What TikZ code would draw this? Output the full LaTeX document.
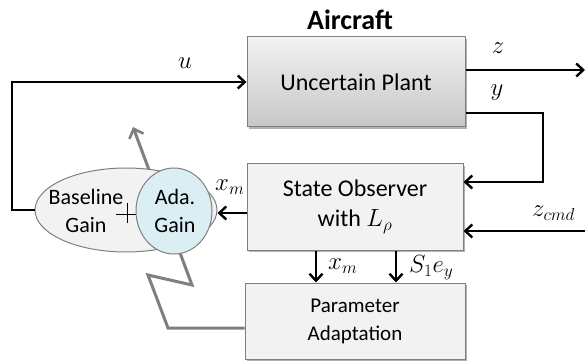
\documentclass[tikz,border=0pt]{standalone}
\usepackage{fontspec}
\setmainfont{Carlito}
\usetikzlibrary{arrows.meta,shadows,shapes.geometric}
\definecolor{boxline}{HTML}{7F7F7F}
\definecolor{boxfill}{HTML}{F2F2F2}
\definecolor{adafill}{HTML}{DAEEF3}
\definecolor{graypath}{HTML}{7F7F7F}
\begin{document}
\begin{tikzpicture}[x=1pt,y=-1pt,
  blk/.style={draw=boxline, line width=1pt, fill=boxfill, inner sep=0pt,
    drop shadow={shadow xshift=2pt,shadow yshift=-2pt,fill=black,opacity=0.3}},
  sig/.style={line width=2.6pt, -{Straight Barb[length=7pt,width=13pt,line width=2.4pt]}},
  gpath/.style={draw=graypath, line width=3pt, -{Straight Barb[length=8pt,width=15pt,line width=2.6pt]}},
  big/.style={font=\fontsize{24}{30}\selectfont},
  mid/.style={font=\fontsize{21}{28}\selectfont},
  gain/.style={font=\fontsize{22}{28}\selectfont},
  lbl/.style={font=\fontsize{25}{30}\selectfont, inner sep=0pt}
]
\useasboundingbox (0,0) rectangle (585,363);
% boxes
\node[blk, minimum width=218pt, minimum height=90pt, top color=black!5, bottom color=black!22, big] (plant) at (356,82) {Uncertain Plant};
\node[font=\bfseries\fontsize{28}{32}\selectfont] (title) at (350,20) {Aircraft};
\node[blk, minimum width=216pt, minimum height=86pt, big, align=center] (obs) at (355,207) {State Observer\\ with $L_\rho$};
\node[blk, minimum width=220pt, minimum height=76pt, mid, align=center] (par) at (355,321) {Parameter\\Adaptation};
% gray adaptation path
\coordinate (g1) at (168,328);
\coordinate (g2) at (148,275);
\coordinate (g3) at (192,285);
\coordinate (gtip) at (133,127);
\draw[gpath] (par.west |- g1) -- (g1) -- (g2) -- (g3) -- (gtip);
% gains
\node[ellipse, draw=boxline, line width=1pt, fill=boxfill, minimum width=182pt, minimum height=84pt, inner sep=0pt] (base) at (126,210) {};
\draw[line width=0.6pt] (116,214) -- (137,214) (127,203) -- (127,223);
\node[ellipse, draw=boxline, line width=1pt, fill=adafill, minimum width=76pt, minimum height=86pt, inner sep=0pt] (ada) at (174,211) {};
\node[gain, align=center] (btext) at (86,211) {Baseline\\Gain};
\node[gain, align=center] (atext) at (175,211) {Ada.\\Gain};
% signal connectors
\coordinate (uc) at (12,82);
\draw[sig] (base.west) -| (uc) -- (plant.west);
\coordinate (zc) at (585,70);
\draw[sig] (plant.east |- zc) -- (zc);
\coordinate (y1) at (543,113);
\coordinate (y2) at (543,182);
\draw[sig] (plant.east |- y1) -- (y1) -- (y2) -- (obs.east |- y2);
\coordinate (zcmd) at (585,231);
\draw[sig] (zcmd) -- (obs.east |- zcmd);
\coordinate (xmy) at (0,213);
\draw[sig] (obs.west |- xmy) -- (base.east |- xmy);
\coordinate (d1) at (316,0);
\coordinate (d2) at (396,0);
\draw[sig] (obs.south -| d1) -- (par.north -| d1);
\draw[sig] (obs.south -| d2) -- (par.north -| d2);
% labels
\node[lbl] (lu) at (185,63) {$u$};
\node[lbl] (lz) at (498,48) {$z$};
\node[lbl] (ly) at (497,93) {$y$};
\node[lbl, anchor=west] (lzc) at (532,213) {$z_{cmd}$};
\node[lbl, anchor=west] (lxm1) at (215,187) {$x_m$};
\node[lbl, anchor=west] (lxm2) at (328,266) {$x_m$};
\node[lbl, anchor=west] (lse) at (409,268) {$S_1e_y$};
\end{tikzpicture}
\end{document}
